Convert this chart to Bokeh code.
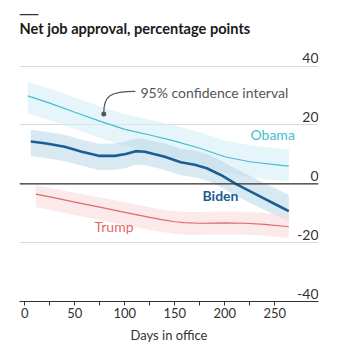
from bokeh.plotting import figure
from bokeh.models import Range1d, FixedTicker, Span, Label, BoxAnnotation
from bokeh.core.properties import value
from bokeh.embed import file_html
from bokeh.resources import INLINE

# ---- data ----
obama_days = [3, 25, 50, 75, 100, 125, 150, 175, 200, 225, 250, 264]
obama_vals = [29.9, 27.4, 24.3, 21.3, 18.5, 16.6, 14.5, 12.1, 9.2, 7.5, 6.5, 6.0]
obama_hi = [34.6, 32.3, 29.3, 26.3, 23.6, 21.8, 19.8, 17.5, 14.7, 13.1, 12.2, 11.7]
obama_lo = [23.9, 21.6, 18.6, 15.6, 12.9, 11.0, 8.9, 6.6, 3.8, 2.2, 1.2, 0.9]

biden_days = [6, 20, 40, 57, 74, 90, 101, 111, 120, 129, 140, 156, 170, 182, 196, 201, 211, 225, 240, 252, 264]
biden_vals = [14.4, 13.8, 12.6, 10.9, 9.5, 9.5, 10.1, 11.1, 10.9, 10.1, 9.2, 7.3, 6.5, 5.3, 3.0, 2.0, 0.0, -2.5, -5.1, -7.2, -9.3]
biden_hi = [18.4, 17.8, 16.7, 15.0, 13.6, 13.7, 14.4, 15.4, 15.2, 14.5, 13.7, 11.9, 11.2, 10.1, 7.9, 7.0, 5.1, 2.7, 0.2, -1.8, -3.8]
biden_lo = [9.4, 8.8, 7.7, 6.1, 4.7, 4.8, 5.4, 6.5, 6.3, 5.6, 4.7, 2.9, 2.2, 1.1, -1.1, -2.1, -4.0, -6.4, -8.9, -10.9, -12.8]

trump_days = [11, 30, 50, 75, 100, 125, 137, 150, 159, 175, 200, 220, 240, 264]
trump_vals = [-3.5, -4.8, -6.2, -7.9, -9.7, -11.4, -12.2, -12.9, -13.2, -13.4, -13.3, -13.4, -13.8, -14.6]
trump_hi = [-0.5, -1.7, -3.0, -4.6, -6.3, -8.0, -8.7, -9.3, -9.6, -9.6, -9.4, -9.5, -9.9, -10.7]
trump_lo = [-7.9, -9.2, -10.6, -12.3, -14.1, -15.7, -16.4, -17.0, -17.3, -17.3, -17.2, -17.3, -17.6, -18.4]

y_ticks = [-40, -20, 0, 20, 40]
y_tick_labels = ["-40", "-20", "0", "20", "40"]
x_ticks = [0, 50, 100, 150, 200, 250]
x_minor_ticks = [25, 75, 125, 175, 225]

TITLE = "Net job approval, percentage points"

# frame spans the full height of the canvas down to the x axis
X_START, X_END = -5.3, 293.7
Y_START, Y_END = -40, 62.3

FONT = "Lato"
OBAMA_C = "#45BDD0"
BIDEN_C = "#1A5E96"
TRUMP_C = "#E06A6A"

p = figure(width=341, height=347, output_backend="svg", toolbar_location=None,
           x_range=Range1d(X_START, X_END), y_range=Range1d(Y_START, Y_END),
           y_axis_location=None, min_border_left=19, min_border_right=23,
           min_border_top=0, min_border_bottom=46)
p.outline_line_color = None
p.background_fill_color = "white"
p.border_fill_color = "white"

# title and the short rule above it
p.add_layout(Label(x=X_START, y=52.8, text=TITLE, text_baseline="alphabetic",
                   text_font=FONT, text_font_size="14.6px", text_font_style="bold",
                   text_color="#1a1a1a"))
p.add_layout(BoxAnnotation(left=X_START, right=X_START + 19, bottom=57.3, top=57.7,
                           fill_color="#333333", fill_alpha=1, line_color=None))

# grid
p.xgrid.grid_line_color = None
p.ygrid.ticker = FixedTicker(ticks=y_ticks)
p.ygrid.grid_line_color = "#D9D9D9"
p.ygrid.grid_line_width = 1
p.add_layout(Span(location=0, dimension="width", line_color="#333333", line_width=1.3))

# x axis
xa = p.xaxis[0]
xa.ticker = FixedTicker(ticks=x_ticks, minor_ticks=x_minor_ticks)
xa.axis_line_color = "#333333"
xa.major_tick_line_color = "#333333"
xa.minor_tick_line_color = "#333333"
xa.major_tick_in = 0
xa.major_tick_out = 4
xa.minor_tick_in = 0
xa.minor_tick_out = 4
xa.major_label_text_font = FONT
xa.major_label_text_font_size = "13px"
xa.major_label_text_color = "#333333"
xa.major_label_standoff = 2
xa.axis_label = "Days in office"
xa.axis_label_text_font = FONT
xa.axis_label_text_font_size = "13px"
xa.axis_label_text_font_style = "normal"
xa.axis_label_text_color = "#333333"
xa.axis_label_standoff = 6

# bands
p.varea(x=obama_days, y1=obama_lo, y2=obama_hi, fill_color="#D4EEF5", fill_alpha=0.6)
p.varea(x=biden_days, y1=biden_lo, y2=biden_hi, fill_color="#B7D5E4", fill_alpha=0.52)
p.varea(x=trump_days, y1=trump_lo, y2=trump_hi, fill_color="#FADADA", fill_alpha=0.6)

# lines
p.line(obama_days, obama_vals, line_color=OBAMA_C, line_width=1.2)
p.line(trump_days, trump_vals, line_color=TRUMP_C, line_width=1.2)
p.line(biden_days, biden_vals, line_color=BIDEN_C, line_width=2.6)

# y tick labels inside the plot, right aligned above gridlines
p.text(x=[X_END] * len(y_ticks), y=y_ticks, text=y_tick_labels,
       text_align="right", text_baseline="alphabetic", y_offset=-8,
       text_font=value(FONT), text_font_size="14px", text_color="#333333")

# series labels
p.text(x=[225.7], y=[16.7], text=["Obama"], text_baseline="middle",
       text_font=value(FONT), text_font_size="14px", text_color=OBAMA_C)
p.text(x=[177.7], y=[-4.1], text=["Biden"], text_baseline="middle",
       text_font=value(FONT), text_font_size="14px", text_font_style="bold", text_color=BIDEN_C)
p.text(x=[69.7], y=[-14.6], text=["Trump"], text_baseline="middle",
       text_font=value(FONT), text_font_size="14px", text_color=TRUMP_C)

# annotation
p.text(x=[115.7], y=[31.0], text=["95% confidence interval"], text_baseline="middle",
       text_font=value(FONT), text_font_size="14px", text_color="#555555")
p.bezier(x0=[110.5], y0=[31.4], x1=[79], y1=[24.2], cx0=[86], cy0=[31.4], cx1=[79], cy1=[30],
         line_color="#555555", line_width=1.2)
p.scatter(x=[79], y=[23.7], size=5, fill_color="#555555", line_color=None)

open("out.html", "w").write(file_html(p, INLINE))
